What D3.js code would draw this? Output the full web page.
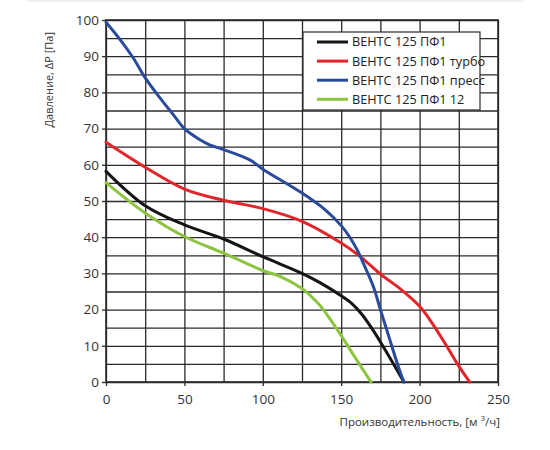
<!DOCTYPE html>
<html>
<head>
<meta charset="utf-8">
<script src="https://cdn.jsdelivr.net/npm/d3@7"></script>
<style>
  html, body { margin: 0; padding: 0; background: #fff; }
  svg { display: block; font-family: "Open Sans", sans-serif; }
</style>
</head>
<body>
<div id="chart"></div>
<script>
const seriesNames = [
  "ВЕНТС 125 ПФ1",
  "ВЕНТС 125 ПФ1 турбо",
  "ВЕНТС 125 ПФ1 пресс",
  "ВЕНТС 125 ПФ1 12",
];
const seriesColors = ["#151515", "#e2242b", "#2a4b9b", "#8cc43f"];

// [производительность м3/ч, давление Па]
const base = [
  [0, 58.2], [25, 48.7], [50, 43.4], [75, 39.5], [100, 34.6], [125, 30],
  [137, 27.3], [150, 23.8], [157, 21.6], [163, 18.8], [170.5, 14.2], [178, 8.9], [190, 0],
];
const turbo = [
  [0, 66.2], [25, 59.3], [50, 53.3], [75, 50.2], [100, 47.9], [125, 44.4],
  [150, 38.4], [162, 34.7], [175, 29.8], [187.5, 25.8], [200, 20.9],
  [208.7, 15.8], [217.3, 9.9], [225, 4.4], [232, 0],
];
const press = [
  [0, 99.4], [9, 94.6], [17.4, 89.5], [25, 84], [34.4, 78.5], [43, 73.8],
  [50, 70], [60, 66.9], [66, 65.5], [75, 64.2], [92, 61.3], [100, 58.8],
  [125, 52.2], [140, 47.5], [150, 43.2], [155.5, 40], [161, 35.8], [164, 32.9],
  [170.5, 26.4], [175, 20], [181, 11.7], [186.4, 4.3], [190, 0],
];
const v12 = [
  [0, 55.1], [25, 46.7], [50, 40.2], [75, 35.6], [100, 30.8], [112, 29],
  [125, 25.8], [131, 23.6], [137, 20.9], [143.5, 17], [150, 12.8], [160, 6], [169, 0],
];
const seriesData = [base, turbo, press, v12];

const xTicks = [0, 50, 100, 150, 200, 250];
const yTicks = [0, 10, 20, 30, 40, 50, 60, 70, 80, 90, 100];
const xGrid = d3.range(0, 251, 25);
const yGrid = d3.range(0, 101, 5);

const width = 550;
const height = 450;
const margin = { top: 20, right: 52, bottom: 68, left: 106 };

const x = d3.scaleLinear().domain([0, 250]).range([margin.left, width - margin.right]);
const y = d3.scaleLinear().domain([0, 100]).range([height - margin.bottom, margin.top]);

const svg = d3.select("#chart").append("svg")
  .attr("width", width)
  .attr("height", height)
  .attr("viewBox", `0 0 ${width} ${height}`);

// faint shadow strip on top of the picture
svg.append("rect")
  .attr("x", 27).attr("y", 0).attr("width", 496).attr("height", 2)
  .attr("fill", "#f0f0f0");

const gridColor = "#2b2b2b";

// grid
svg.append("g")
  .attr("transform", `translate(0,${y(0)})`)
  .call(d3.axisBottom(x).tickValues(xGrid).tickSize(-(y(0) - y(100))).tickFormat(""))
  .call((g) => g.select(".domain").remove())
  .call((g) => g.selectAll(".tick line").attr("stroke", gridColor).attr("stroke-width", 1.3));

svg.append("g")
  .attr("transform", `translate(${x(0)},0)`)
  .call(d3.axisLeft(y).tickValues(yGrid).tickSize(-(x(250) - x(0))).tickFormat(""))
  .call((g) => g.select(".domain").remove())
  .call((g) => g.selectAll(".tick line").attr("stroke", gridColor).attr("stroke-width", 1.3));

svg.append("rect")
  .attr("x", x(0)).attr("y", y(100))
  .attr("width", x(250) - x(0)).attr("height", y(0) - y(100))
  .attr("fill", "none").attr("stroke", gridColor).attr("stroke-width", 1.6);

// axes with labels
svg.append("g")
  .attr("transform", `translate(0,${y(0)})`)
  .call(d3.axisBottom(x).tickValues(xTicks).tickSize(4).tickPadding(8))
  .call((g) => g.select(".domain").remove())
  .call((g) => g.selectAll(".tick line").attr("stroke", gridColor).attr("stroke-width", 1.3))
  .call((g) => g.selectAll(".tick text").attr("fill", "#333").attr("font-size", 13.5)
    .attr("font-family", "Open Sans, sans-serif"));

svg.append("g")
  .attr("transform", `translate(${x(0)},0)`)
  .call(d3.axisLeft(y).tickValues(yTicks).tickSize(4).tickPadding(3))
  .call((g) => g.select(".domain").remove())
  .call((g) => g.selectAll(".tick line").attr("stroke", gridColor).attr("stroke-width", 1.3))
  .call((g) => g.selectAll(".tick text").attr("fill", "#333").attr("font-size", 13.5)
    .attr("font-family", "Open Sans, sans-serif"));

// axis titles
const xTitle = svg.append("text")
  .attr("x", x(250) + 2)
  .attr("y", 426)
  .attr("text-anchor", "end")
  .attr("fill", "#333")
  .attr("font-size", 11.5);
xTitle.append("tspan").text("Производительность, [м ");
xTitle.append("tspan").attr("font-size", 8).attr("dy", -5).text("3");
xTitle.append("tspan").attr("dy", 5).text("/ч]");

svg.append("text")
  .attr("transform", `translate(53,32) rotate(-90)`)
  .attr("text-anchor", "end")
  .attr("fill", "#333")
  .attr("font-size", 11)
  .text("Давление, ΔP [Па]");

// curves
const line = d3.line()
  .x((d) => x(d[0]))
  .y((d) => y(d[1]))
  .curve(d3.curveCatmullRom.alpha(0.5));

svg.append("g")
  .selectAll("path")
  .data(seriesData)
  .join("path")
  .attr("fill", "none")
  .attr("stroke", (d, i) => seriesColors[i])
  .attr("stroke-width", 3)
  .attr("stroke-linecap", "round")
  .attr("d", line);

// legend
const legend = svg.append("g");
legend.append("rect")
  .attr("x", 303).attr("y", 32)
  .attr("width", 177).attr("height", 78)
  .attr("fill", "#fff")
  .attr("stroke", gridColor)
  .attr("stroke-width", 1.2);

const item = legend.selectAll("g.item")
  .data(seriesNames)
  .join("g")
  .attr("class", "item")
  .attr("transform", (d, i) => `translate(0,${42 + i * 19.1})`);

item.append("line")
  .attr("x1", 317).attr("x2", 348)
  .attr("stroke", (d, i) => seriesColors[i])
  .attr("stroke-width", 3);

item.append("text")
  .attr("x", 352)
  .attr("dy", "0.35em")
  .attr("fill", "#222")
  .attr("font-size", 12.7)
  .text((d) => d);
</script>
</body>
</html>
